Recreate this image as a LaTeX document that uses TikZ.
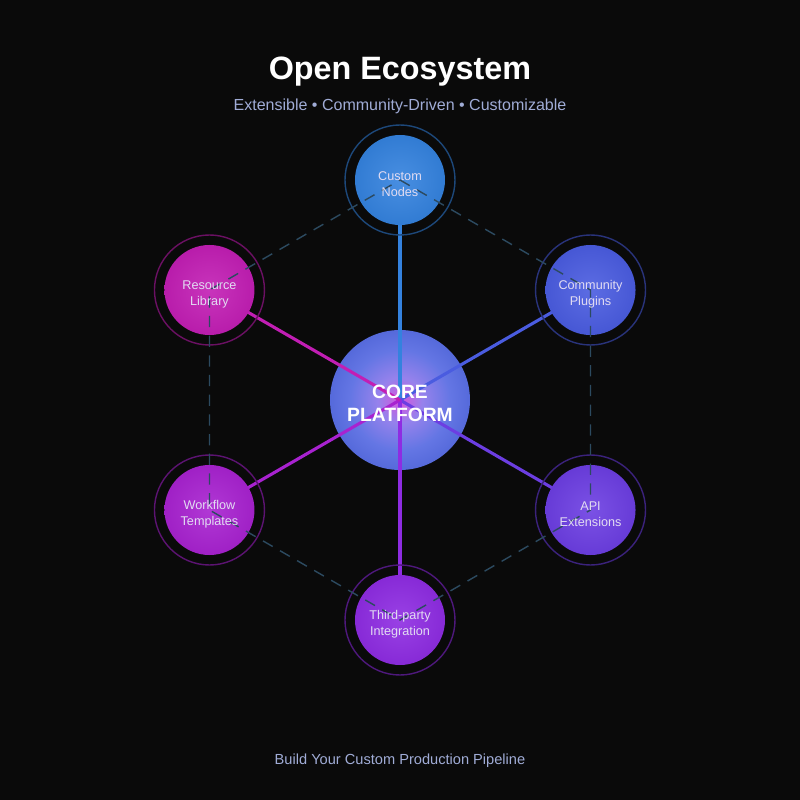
\documentclass[tikz,border=0pt]{standalone}
\usepackage{fontspec}
\setmainfont{Liberation Sans}
\usepackage{xcolor}
\usetikzlibrary{positioning,calc}

\definecolor{bgdark}{RGB}{10,10,10}
\definecolor{cNodes}{RGB}{52,130,222}
\definecolor{cPlugins}{RGB}{74,92,224}
\definecolor{cApi}{RGB}{108,62,226}
\definecolor{cThird}{RGB}{142,44,226}
\definecolor{cFlow}{RGB}{168,34,208}
\definecolor{cLib}{RGB}{194,30,180}
\definecolor{linkgray}{RGB}{44,74,96}
\definecolor{subblue}{RGB}{160,172,214}
\definecolor{labeltext}{RGB}{226,220,242}
\definecolor{corepink}{RGB}{214,84,220}
\definecolor{corelav}{RGB}{150,130,236}
\definecolor{coreinner}{RGB}{100,118,228}
\definecolor{coremid}{RGB}{62,86,204}
\definecolor{coreedge}{RGB}{38,54,166}

\pgfdeclareradialshading{coreglow}{\pgfpoint{0bp}{0bp}}{%
  color(0bp)=(corepink); color(8bp)=(corelav); color(18bp)=(coreinner);
  color(36bp)=(coremid); color(50bp)=(coreedge); color(100bp)=(coreedge)}

\begin{document}
\begin{tikzpicture}[
    hubdisc/.style={circle, minimum size=3.5cm, inner sep=0pt, shading=coreglow},
    ecodisc/.style={circle, minimum size=2.25cm, inner sep=0pt, shading=radial,
        inner color=#1!90!white, outer color=#1!95!black},
    ecoring/.style={draw=#1!55!black, line width=1pt},
    spoke/.style={line width=2.2pt, draw=#1},
    link/.style={draw=linkgray, line width=1pt, dash pattern=on 8pt off 6pt},
    ecotext/.style={align=center, text=labeltext, yshift=-0.1cm, font=\fontsize{9}{11.4}\selectfont},
    hubtext/.style={align=center, text=white, yshift=-0.075cm, font=\bfseries\fontsize{13.7}{16.4}\selectfont}
]
    \fill[bgdark] (-10,-10) rectangle (10,10);
    \useasboundingbox (-10,-10) rectangle (10,10);

    \node[font=\bfseries\fontsize{23}{27}\selectfont, text=white] (title) at (0,8.2) {Open Ecosystem};
    \node[font=\fontsize{11.4}{14}\selectfont, text=subblue] (subtitle) at (0,7.35)
        {Extensible • Community-Driven • Customizable};

    \node[hubdisc] (core) at (0,0) {};

    \foreach \i/\a/\c in {1/90/cNodes, 2/30/cPlugins, 3/-30/cApi, 4/-90/cThird, 5/210/cFlow, 6/150/cLib} {
        \coordinate (p\i) at (\a:5.5);
        \draw[spoke=\c] (core.center) -- (p\i);
    }
    \foreach \i/\c in {1/cNodes, 2/cPlugins, 3/cApi, 4/cThird, 5/cFlow, 6/cLib} {
        \node[ecodisc=\c] (n\i) at (p\i) {};
        \draw[ecoring=\c] (n\i.center) circle (1.375);
    }

    \draw[link] (n1.center) -- (n2.center) -- (n3.center) -- (n4.center)
        -- (n5.center) -- (n6.center) -- cycle;

    \node[hubtext] (coretext) at (core) {CORE\\PLATFORM};
    \node[ecotext] (t1) at (n1) {Custom\\Nodes};
    \node[ecotext] (t2) at (n2) {Community\\Plugins};
    \node[ecotext] (t3) at (n3) {API\\Extensions};
    \node[ecotext] (t4) at (n4) {Third-party\\Integration};
    \node[ecotext] (t5) at (n5) {Workflow\\Templates};
    \node[ecotext] (t6) at (n6) {Resource\\Library};

    \node[font=\fontsize{10.4}{13}\selectfont, text=subblue] (footer) at (0,-9.025)
        {Build Your Custom Production Pipeline};
\end{tikzpicture}
\end{document}
